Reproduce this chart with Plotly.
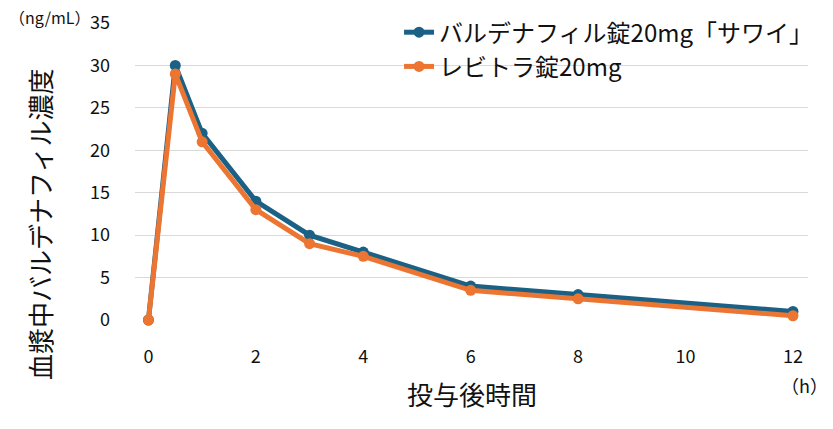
import plotly.graph_objects as go

hours = [0, 0.5, 1, 2, 3, 4, 6, 8, 12]
sawai = [0, 30, 22, 14, 10, 8, 4, 3, 1]
levitra = [0, 29, 21, 13, 9, 7.5, 3.5, 2.5, 0.5]
names = ["バルデナフィル錠20mg「サワイ」", "レビトラ錠20mg"]
colors = ["#1B6185", "#EC7532"]
x_title = "投与後時間"
y_title = "血漿中バルデナフィル濃度"

FONT = "Noto Sans CJK JP"

fig = go.Figure()
for y, n, c in [(sawai, names[0], colors[0]), (levitra, names[1], colors[1])]:
    fig.add_trace(go.Scatter(x=hours, y=y, name=n, mode="lines+markers",
                             line=dict(color=c, width=5),
                             marker=dict(color=c, size=11),
                             cliponaxis=False))

fig.update_layout(
    width=825, height=421,
    margin=dict(l=127, r=25, t=15, b=109, autoexpand=False),
    plot_bgcolor="white", paper_bgcolor="white",
    font=dict(family=FONT, color="#111111"),
    showlegend=True,
    legend=dict(x=0.474, y=0.995, xref="container", yref="container",
                xanchor="left", yanchor="top",
                font=dict(size=24, family=FONT), bgcolor="rgba(0,0,0,0)",
                itemwidth=30, tracegroupgap=0),
    xaxis=dict(range=[-0.25, 12.28], tickvals=[0, 2, 4, 6, 8, 10, 12],
               showgrid=False, zeroline=False, showline=False,
               tickfont=dict(size=18), ticklabelstandoff=24),
    yaxis=dict(range=[0, 35], tickvals=[0, 5, 10, 15, 20, 25, 30, 35],
               showgrid=True, gridcolor="#D9D9D9", gridwidth=1.3,
               zeroline=False, showline=False,
               tickfont=dict(size=18), ticklabelstandoff=24),
    annotations=[
        dict(text=y_title, xref="paper", yref="paper", x=-0.141, y=0.32,
             textangle=-90, xanchor="center", yanchor="middle", showarrow=False,
             font=dict(size=26)),
        dict(text=x_title, xref="paper", yref="paper", x=0.5, y=-0.246,
             xanchor="center", yanchor="middle", showarrow=False,
             font=dict(size=26)),
        dict(text="（ng/mL）", xref="paper", yref="paper", x=-0.1887, y=1.02,
             xanchor="left", yanchor="middle", showarrow=False, font=dict(size=16),
             borderpad=0),
        dict(text="（h）", xref="paper", yref="paper", x=0.9955, y=-0.219,
             xanchor="center", yanchor="middle", showarrow=False, font=dict(size=18)),
    ],
)

fig.write_html("out.html")
